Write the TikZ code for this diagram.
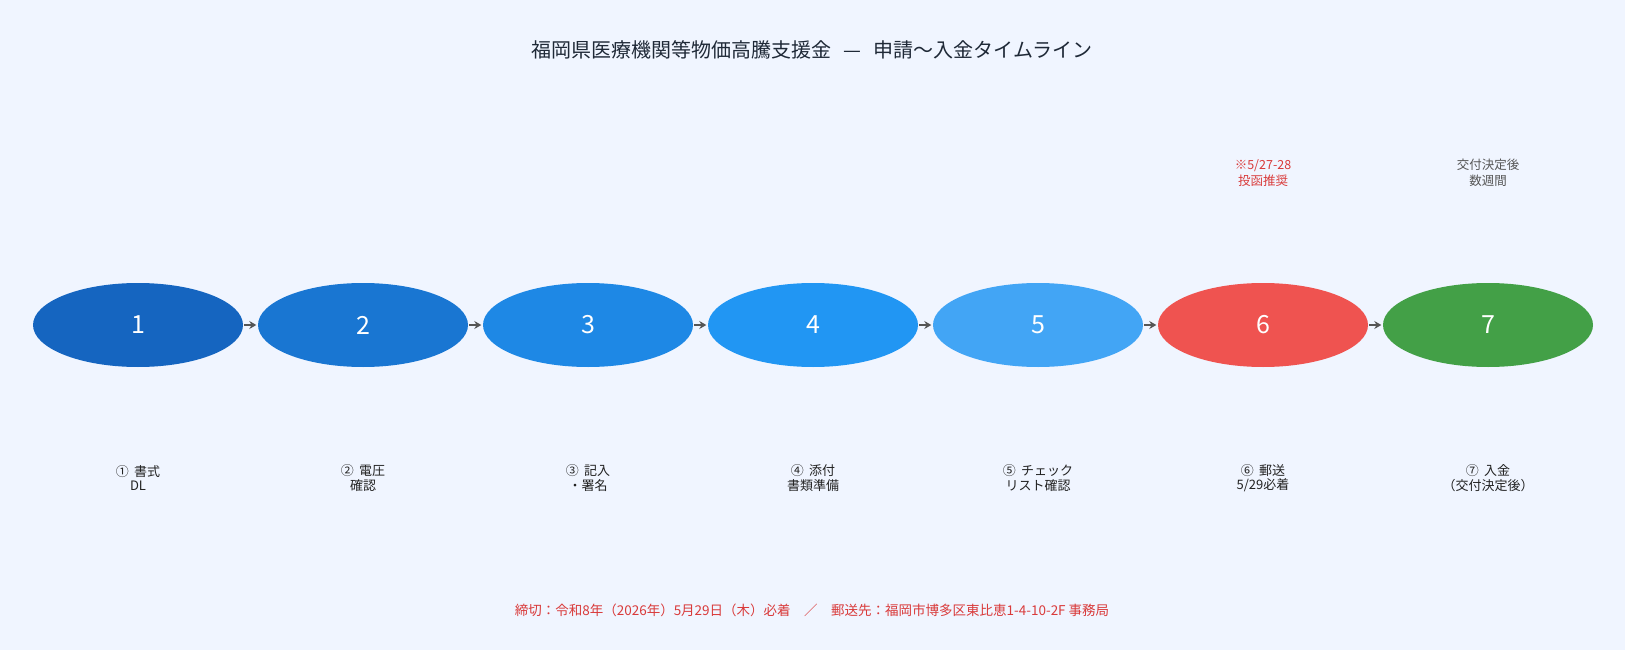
\documentclass[tikz,border=0pt]{standalone}
\usepackage{fontspec}
\setmainfont{Noto Sans CJK JP}
\usetikzlibrary{shapes.geometric,arrows.meta}
\definecolor{bg}{HTML}{F0F5FF}
\definecolor{c1}{HTML}{1565C0}
\definecolor{c2}{HTML}{1976D2}
\definecolor{c3}{HTML}{1E88E5}
\definecolor{c4}{HTML}{2196F3}
\definecolor{c5}{HTML}{42A5F5}
\definecolor{c6}{HTML}{EF5350}
\definecolor{c7}{HTML}{43A047}
\definecolor{arrc}{HTML}{555555}
\definecolor{titlec}{HTML}{1F2937}
\definecolor{redc}{HTML}{D93A3A}
\definecolor{grayc}{HTML}{555555}
\definecolor{labc}{HTML}{222222}
\newcommand{\gapsp}{\hspace{0.4em}}
\tikzset{
  stepnode/.style={ellipse, minimum width=210pt, minimum height=84pt, inner sep=0pt, text=white, font=\fontsize{25}{28}\selectfont},
  arr/.style={draw=arrc, line width=2.5pt, -{Stealth[length=7pt,width=8pt]}, shorten <=1pt, shorten >=1.5pt},
  lab/.style={align=center, text=labc, font=\fontsize{13}{14.5}\selectfont, inner sep=0pt},
  note/.style={align=center, font=\fontsize{12.5}{15.5}\selectfont, inner sep=0pt},
}
\begin{document}
\begin{tikzpicture}[x=1pt,y=-1pt]
\fill[bg] (0,0) rectangle (1625,650);
\useasboundingbox (0,0) rectangle (1625,650);
\node[text=titlec, font=\fontsize{20}{24}\selectfont] (title) at (812,50) {福岡県医療機関等物価高騰支援金\hspace{0.6em}—\hspace{0.6em}申請〜入金タイムライン};
\foreach \i/\c in {1/c1,2/c2,3/c3,4/c4,5/c5,6/c6,7/c7}{
  \node[stepnode, fill=\c] (n\i) at ({138+225*(\i-1)},325) {\i};
}
\foreach \a/\b in {1/2,2/3,3/4,4/5,5/6,6/7}{
  \draw[arr] (n\a.east) -- (n\b.west);
}
\node[lab] (l1) at (138,478) {①\gapsp 書式\\DL};
\node[lab] (l2) at (363,478) {②\gapsp 電圧\\確認};
\node[lab] (l3) at (588,478) {③\gapsp 記入\\・署名};
\node[lab] (l4) at (813,478) {④\gapsp 添付\\書類準備};
\node[lab] (l5) at (1038,478) {⑤\gapsp チェック\\リスト確認};
\node[lab] (l6) at (1263,478) {⑥\gapsp 郵送\\5/29必着};
\node[lab] (l7) at (1488,478) {⑦\gapsp 入金\\（交付決定後）};
\node[note, text=redc] (t6) at (1263,173) {※5/27-28\\投函推奨};
\node[note, text=grayc] (t7) at (1488,173) {交付決定後\\数週間};
\node[text=redc, font=\fontsize{13.5}{16}\selectfont] (foot) at (812,610) {締切：令和8年（2026年）5月29日（木）必着　／　郵送先：福岡市博多区東比恵1-4-10-2F 事務局};
\end{tikzpicture}
\end{document}
